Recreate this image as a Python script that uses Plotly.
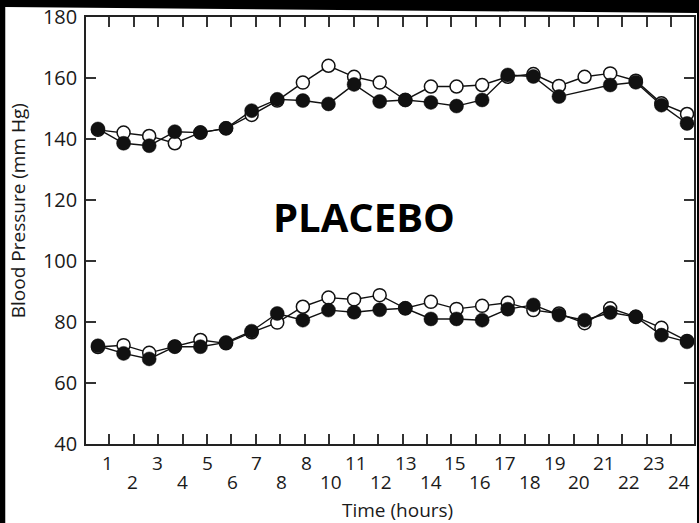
import plotly.graph_objects as go

# Hourly readings over 24 h (mm Hg)
hours = list(range(1, 25))
hour_labels = ["1", "2", "3", "4", "5", "6", "7", "8", "8", "10", "11", "12",
               "13", "14", "15", "16", "17", "18", "19", "20", "21", "22", "23", "24"]

systolic_open = [143.0, 142.1, 141.0, 138.6, 142.1, 143.5, 147.9, 152.6, 158.5, 164.0, 160.4, 158.5,
                 152.8, 157.2, 157.2, 157.7, 160.4, 161.3, 157.4, 160.4, 161.5, 159.1, 151.7, 148.2]
systolic_filled = [143.3, 138.6, 137.8, 142.4, 142.1, 143.5, 149.3, 153.0, 152.6, 151.5, 157.9, 152.3,
                   152.8, 152.0, 150.8, 152.8, 161.0, 160.5, 153.9, None, 157.7, 158.6, 151.1, 145.1]
diastolic_open = [71.8, 72.4, 69.9, 72.0, 74.1, 73.0, 76.6, 79.8, 85.0, 88.0, 87.4, 88.8,
                  84.5, 86.6, 84.3, 85.3, 86.3, 83.9, 82.8, 79.6, 84.5, 81.7, 78.1, 73.8]
diastolic_filled = [72.2, 69.7, 67.9, 71.9, 71.9, 73.3, 77.0, 82.8, 80.6, 83.9, 83.2, 84.0,
                    84.5, 81.0, 81.0, 80.6, 84.2, 85.6, 82.3, 80.6, 83.1, 81.7, 75.7, 73.5]

y_ticks = [40, 60, 80, 100, 120, 140, 160, 180]

FONT = "Open Sans"
INK = "#111111"
TEXT = "#1a1a1a"

fig = go.Figure()

# connecting lines first so every marker sits on top of them
for series in (systolic_open, diastolic_open, systolic_filled, diastolic_filled):
    fig.add_trace(go.Scatter(x=hours, y=series, mode="lines", connectgaps=True,
                             line=dict(color=INK, width=1.4), hoverinfo="skip",
                             showlegend=False))

for series in (systolic_open, diastolic_open):
    fig.add_trace(go.Scatter(x=hours, y=series, mode="markers", showlegend=False,
                             marker=dict(symbol="circle", size=13, color="white",
                                         line=dict(color=INK, width=1.5))))

for series in (systolic_filled, diastolic_filled):
    fig.add_trace(go.Scatter(x=hours, y=series, mode="markers", showlegend=False,
                             marker=dict(symbol="circle", size=14, color=INK,
                                         line=dict(color=INK, width=0.5))))

# tick marks along the time axis
tick_pos = [1.44 + k * 0.9542 for k in range(24)]
# staggered hour labels (odd row, then even row slightly lower)
label_pos = [1.39 + k * 0.969 for k in range(24)]

annotations = []
for k, (xp, txt) in enumerate(zip(label_pos, hour_labels)):
    annotations.append(dict(x=xp, xref="x", y=0, yref="paper", text=txt, showarrow=False,
                            yanchor="middle", xanchor="center", borderpad=0,
                            yshift=-19 if k % 2 == 0 else -38,
                            font=dict(family=FONT, size=19, color=TEXT)))

annotations += [
    dict(x=(399 - 86) / 610, xref="paper", y=(444 - 510) / 427, yref="paper",
         text="Time (hours)", showarrow=False, xanchor="center", yanchor="middle",
         borderpad=0, font=dict(family=FONT, size=19, color=TEXT)),
    dict(x=(18 - 86) / 610, xref="paper", y=(444 - 211) / 427, yref="paper",
         text="Blood Pressure (mm Hg)", showarrow=False, textangle=-90,
         xanchor="center", yanchor="middle",
         font=dict(family=FONT, size=19, color=TEXT)),
    dict(x=(365 - 86) / 610, xref="paper", y=(444 - 217) / 427, yref="paper",
         text="<b>PLACEBO</b>", showarrow=False, xanchor="center", yanchor="middle",
         font=dict(family=FONT, size=40, color="#000000")),
]

fig.update_layout(
    width=699, height=523,
    margin=dict(l=86, r=3, t=17, b=79),
    paper_bgcolor="black",
    plot_bgcolor="white",
    showlegend=False,
    annotations=annotations,
    shapes=[dict(type="path", xref="paper", yref="paper", layer="below",
                 path=f"M {-81/610} {-79/427} L {-81/610} {437/427} "
                      f"L {613/610} {431/427} L {613/610} {-79/427} Z",
                 fillcolor="white", line=dict(width=0))],
    xaxis=dict(range=[0.533, 24.272], tickvals=tick_pos, showticklabels=False,
               ticks="inside", ticklen=10, tickwidth=1.6, tickcolor="#333333",
               showline=True, linecolor="#222222", linewidth=1.6, mirror="ticks",
               showgrid=False, zeroline=False, fixedrange=True),
    yaxis=dict(range=[40, 180], tickvals=y_ticks,
               ticks="inside", ticklen=10, tickwidth=1.6, tickcolor="#333333",
               showline=True, linecolor="#222222", linewidth=1.6, mirror="ticks",
               showgrid=False, zeroline=False, ticklabelstandoff=3,
               tickfont=dict(family=FONT, size=20, color=TEXT)),
)

fig.write_html("out.html")
